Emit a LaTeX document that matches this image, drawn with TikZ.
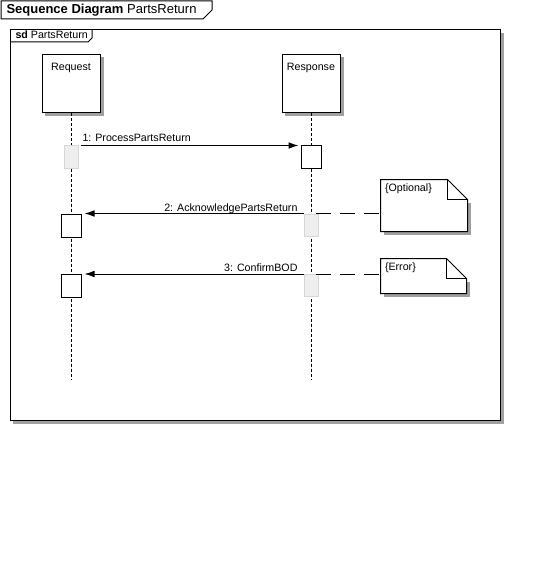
\documentclass[tikz,border=0pt]{standalone}
\usepackage{fontspec}
\setmainfont{Liberation Sans}
\usetikzlibrary{arrows.meta}
\definecolor{shgray}{RGB}{160,160,160}
\definecolor{actgray}{RGB}{238,238,238}
\definecolor{actborder}{RGB}{214,214,214}
\begin{document}
\begin{tikzpicture}[x=0.75pt,y=-0.75pt, line width=0.75pt,
  font=\fontsize{8}{9.6}\selectfont,
  shadowed/.style={preaction={draw=shgray, fill=shgray, transform canvas={shift={(2.25pt,-2.25pt)}}}},
  headbox/.style={draw, fill=white, minimum width=43.5pt, minimum height=43.5pt, inner sep=0pt, shadowed},
  actbox/.style={draw, fill=white, minimum width=15pt, minimum height=17.25pt, inner sep=0pt},
  ghostbox/.style={draw=actborder, fill=actgray, minimum width=10.5pt, minimum height=16.5pt, inner sep=0pt},
  notebox/.style={inner sep=0pt},
  lifeline/.style={dash pattern=on 2.25pt off 1.5pt},
  msg/.style={-{Latex[length=7.5pt,width=5pt]}},
  noteline/.style={dash pattern=on 11.25pt off 7.1pt},
  txt/.style={inner sep=0pt}
]
\useasboundingbox (0,0) rectangle (541,574);
\fill[white] (0,0) rectangle (541,574);

% title tab
\draw (1,1) -- (212,1) -- (212,10) -- (203,19) -- (1,19) -- cycle;
\node[txt, anchor=base west, font=\fontsize{9.75}{11}\selectfont] (title) at (6,14) {\textbf{Sequence Diagram} PartsReturn};

% frame
\fill[shgray] (13,33) rectangle (503.5,423.5);
\draw[fill=white] (10,30) rectangle (500,420);
\draw (10,42) -- (88,42) -- (92,38) -- (92,30);
\node[txt, anchor=base west] (sdlabel) at (15,38.5) {\textbf{sd} PartsReturn};

% lifeline heads
\node[headbox] (req) at (71,84) {};
\node[headbox] (resp) at (311,84) {};
\node[txt, anchor=base] (reqlbl) at (71,71) {Request};
\node[txt, anchor=base] (resplbl) at (311,71) {Response};

% lifelines
\coordinate (reqend) at (71,380);
\coordinate (respend) at (311,380);
\draw[lifeline] (req.south) -- (reqend);
\draw[lifeline] (resp.south) -- (respend);

% activations
\node[ghostbox] (g1) at (71,157) {};
\node[actbox, minimum height=16.5pt] (a1) at (311,157) {};
\node[actbox] (a2) at (71,225.5) {};
\node[ghostbox] (g2) at (311,225) {};
\node[actbox] (a3) at (71,286) {};
\node[ghostbox] (g3) at (311,285.5) {};

% notes
\node[notebox, minimum width=64.5pt, minimum height=38.25pt] (opt) at (424,205.5) {};
\fill[shgray] ([xshift=2.25pt,yshift=-2.25pt]opt.south west) rectangle ([xshift=2.5pt,yshift=-17.25pt]opt.north east);
\draw[fill=white] (opt.north west) -- ([xshift=-15pt]opt.north east) -- ([yshift=-15pt]opt.north east) -- (opt.south east) -- (opt.south west) -- cycle;
\draw ([xshift=-15pt]opt.north east) |- ([yshift=-15pt]opt.north east);
\node[txt, anchor=north west] (opttxt) at ([xshift=3pt,yshift=-2.5pt]opt.north west) {\{Optional\}};

\node[notebox, minimum width=63.75pt, minimum height=25.5pt] (err) at (423.5,276) {};
\fill[shgray] ([xshift=2.25pt,yshift=-2.5pt]err.south west) rectangle ([xshift=2.5pt,yshift=-17.25pt]err.north east);
\draw[fill=white] (err.north west) -- ([xshift=-15pt]err.north east) -- ([yshift=-15pt]err.north east) -- (err.south east) -- (err.south west) -- cycle;
\draw ([xshift=-15pt]err.north east) |- ([yshift=-15pt]err.north east);
\node[txt, anchor=north west] (errtxt) at ([xshift=3pt,yshift=-2.5pt]err.north west) {\{Error\}};

% messages
\draw[msg, shorten <=1.5pt, shorten >=1.5pt] (g1.north east) -- (a1.north west);
\node[txt, anchor=base west] (m1) at (82,142) {1: ProcessPartsReturn};
\draw[msg, shorten >=2.25pt] (g2.north west) -- (a2.north east);
\node[txt, anchor=base east] (m2) at (298,211.5) {2: AcknowledgePartsReturn};
\draw[msg, shorten >=2.25pt] (g3.north west) -- (a3.north east);
\node[txt, anchor=base east] (m3) at (298,271.5) {3: ConfirmBOD};

% note connectors
\draw[noteline, shorten <=-2.25pt] (g2.north east) -- (opt.west |- g2.north east);
\draw[noteline, shorten <=-2.25pt] (g3.north east) -- (err.west |- g3.north east);
\end{tikzpicture}
\end{document}
